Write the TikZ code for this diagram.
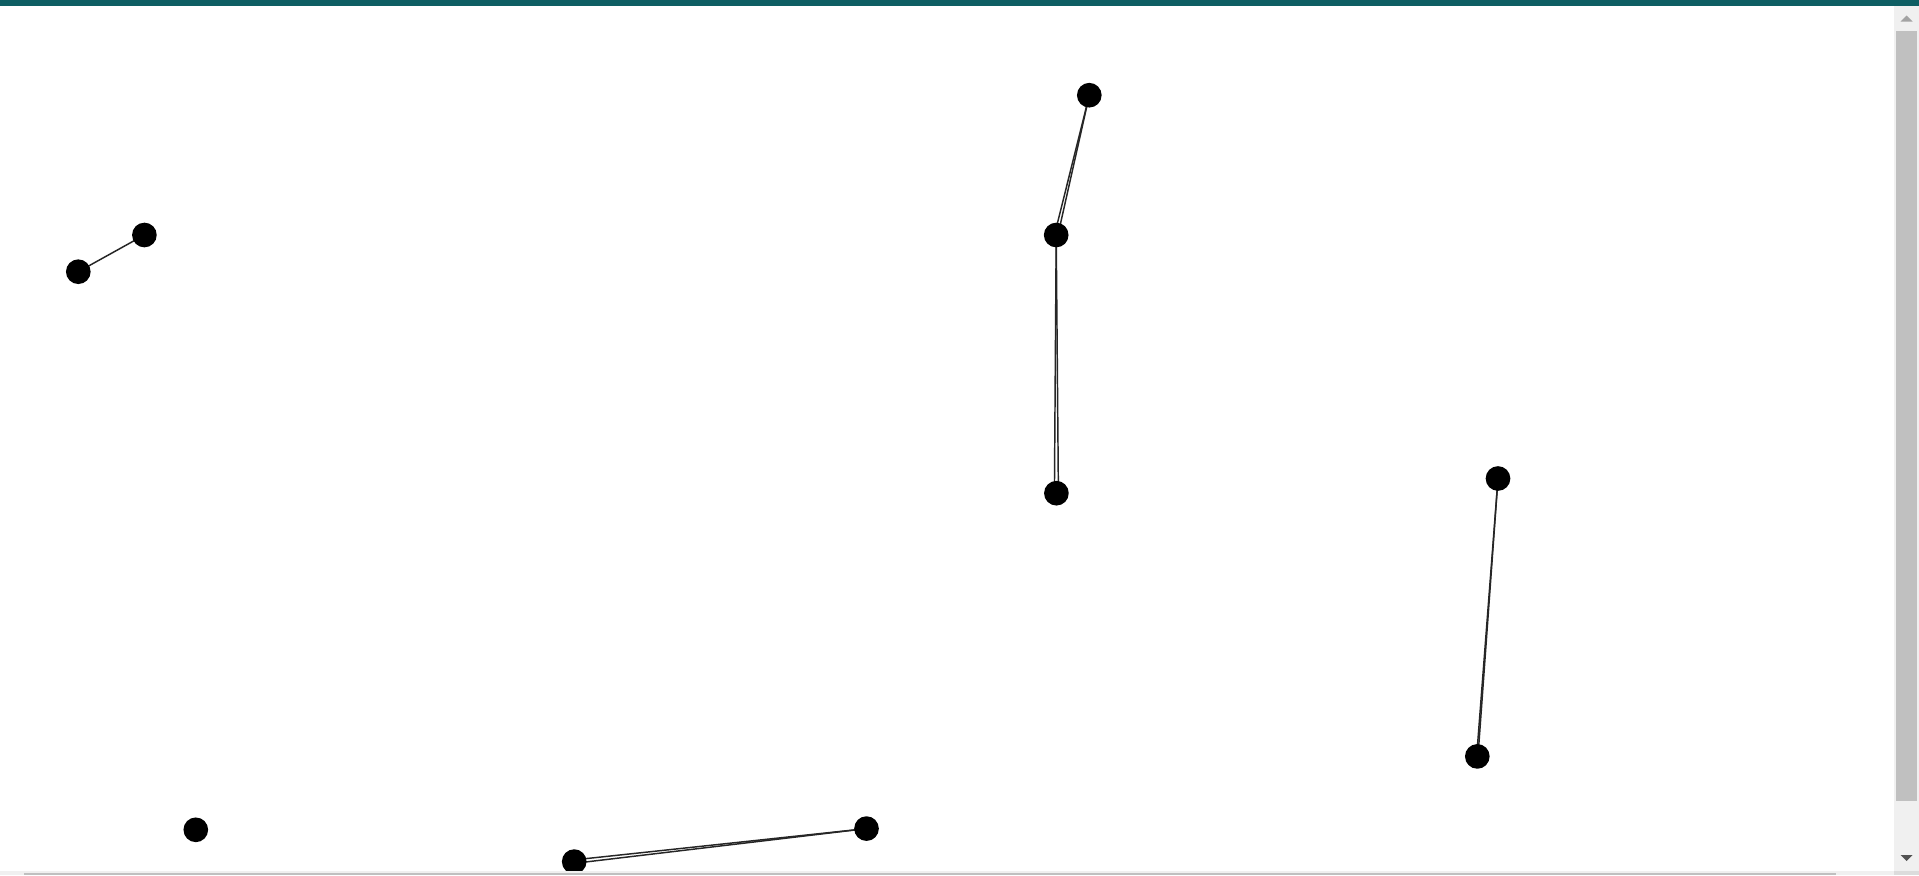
\documentclass[tikz,border=0pt]{standalone}
\usetikzlibrary{backgrounds}
\definecolor{barteal}{HTML}{0E5E63}
\definecolor{scrollbg}{HTML}{F0F0F0}
\definecolor{scrollthumb}{HTML}{C0C0C0}
\definecolor{scrollcorner}{HTML}{DCDCDC}
\tikzset{
  vertex/.style={circle, fill=black, inner sep=0pt, minimum size=18.5pt},
  link/.style={draw=black!85, line width=1.1pt},
}
\begin{document}
\begin{tikzpicture}[x=0.75pt,y=0.75pt,yscale=-1,xscale=1]
\useasboundingbox (0,0) rectangle (1919,875);

%Top bar
\fill[barteal] (0,0) rectangle (1919,6);

%Vertices
\node[vertex] (a) at (144.4,235) {};
\node[vertex] (b) at (78.3,271.7) {};
\node[vertex] (c) at (1089.3,95.2) {};
\node[vertex] (d) at (1056.2,235) {};
\node[vertex] (e) at (1056.4,493.2) {};
\node[vertex] (f) at (1498,478.5) {};
\node[vertex] (g) at (1477.3,756.4) {};
\node[vertex] (h) at (195.8,829.8) {};
\node[vertex] (i) at (866.5,828.6) {};
\node[vertex] (j) at (574.2,861.6) {};

%Links
\begin{scope}[on background layer]
\fill[white] (0,6) rectangle (1894,870.7);
\draw[link] (a.center) -- (b.center);
\draw[link] (c.center) -- ([xshift=-1.3pt]d.center);
\draw[link] (c.center) -- ([xshift=1.3pt]d.center);
\draw[link] (d.center) -- ([xshift=-1.5pt]e.center);
\draw[link] (d.center) -- ([xshift=1.5pt]e.center);
\draw[link] (f.center) -- ([xshift=-0.5pt]g.center);
\draw[link] (f.center) -- ([xshift=0.5pt]g.center);
\draw[link] (i.center) -- ([yshift=-1.3pt]j.center);
\draw[link] (i.center) -- ([yshift=1.3pt]j.center);
\end{scope}

%Right scrollbar
\fill[scrollbg] (1894,6) rectangle (1919,870.7);
\fill[scrollthumb] (1896,31) rectangle (1917,801);
\fill[black!36] (1900.5,21.5) -- (1906.5,15.5) -- (1912.5,21.5) -- cycle;
\fill[black!68] (1900.5,855) -- (1912.5,855) -- (1906.5,861) -- cycle;

%Bottom scrollbar
\fill[scrollbg] (0,870.7) rectangle (1894,875);
\fill[scrollthumb] (24,872.7) rectangle (1836,875);
\fill[scrollcorner] (1894,870.7) rectangle (1919,875);

\end{tikzpicture}
\end{document}
